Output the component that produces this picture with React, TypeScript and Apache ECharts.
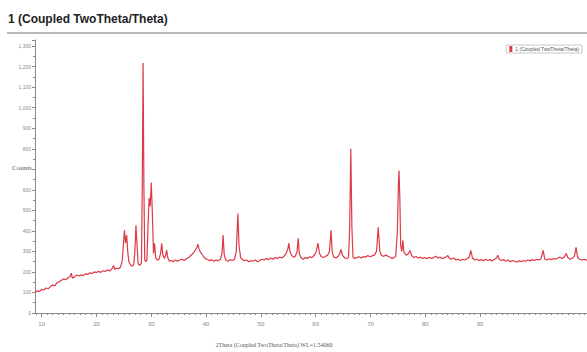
import React, { useEffect, useRef } from "react";
import * as echarts from "echarts";

const titleText = "1 (Coupled TwoTheta/Theta)";
const xTitle = "2Theta (Coupled TwoTheta/Theta) WL=1.54060";
const yTitle = "Counts";
const xLabelValues = [10, 20, 30, 40, 50, 60, 70, 80, 90];
const xMinorValues = [
  9, 10, 11, 12, 13, 14, 15, 16, 17, 18, 19, 20, 21, 22, 23, 24, 25, 26, 27, 28, 29, 30,
  31, 32, 33, 34, 35, 36, 37, 38, 39, 40, 41, 42, 43, 44, 45, 46, 47, 48, 49, 50, 51, 52,
  53, 54, 55, 56, 57, 58, 59, 60, 61, 62, 63, 64, 65, 66, 67, 68, 69, 70, 71, 72, 73, 74,
  75, 76, 77, 78, 79, 80, 81, 82, 83, 84, 85, 86, 87, 88, 89, 90, 91, 92, 93, 94, 95, 96,
  97, 98, 99, 100, 101, 102, 103, 104, 105, 106, 107, 108, 109,
];

// 2Theta (deg), counts
const scanA = [
  [8.8, 100], [9.2, 108], [9.6, 104], [10.0, 115], [10.4, 112], [10.8, 122], [11.2, 118],
  [11.6, 130], [12.0, 136], [12.4, 132], [12.8, 148], [13.2, 152], [13.6, 160], [14.0, 166],
  [14.4, 162], [14.8, 172], [15.2, 178], [15.4, 194], [15.6, 170], [16.0, 176], [16.4, 185],
  [16.8, 180], [17.2, 186], [17.6, 182], [18.0, 192], [18.4, 188], [18.8, 196], [19.2, 192],
  [19.6, 200], [20.0, 197],
];
const scanB = [
  [20.4, 203], [20.8, 198], [21.2, 206], [21.6, 202], [22.0, 210], [22.4, 205], [22.8, 214],
  [23.1, 232], [23.3, 212], [23.6, 218], [24.0, 216], [24.4, 224], [24.7, 255], [24.9, 330],
  [25.1, 403], [25.3, 340], [25.5, 380], [25.7, 300], [25.9, 250], [26.2, 235], [26.5, 228],
  [26.8, 236], [27.0, 300], [27.2, 427], [27.4, 330], [27.6, 240], [27.9, 232], [28.2, 245],
  [28.35, 600], [28.5, 1218], [28.65, 620], [28.8, 260], [29.0, 250], [29.2, 258], [29.4, 420],
  [29.6, 560], [29.8, 520], [30.0, 636], [30.2, 480], [30.4, 290], [30.6, 340], [30.8, 270],
  [31.1, 258], [31.4, 262], [31.7, 290], [31.9, 340], [32.1, 285], [32.4, 265], [32.6, 280],
  [32.8, 306], [33.0, 270], [33.3, 252], [33.7, 256], [34.0, 250], [34.4, 258], [34.8, 252],
];
const scanC = [
  [35.2, 258], [35.6, 262], [36.0, 256], [36.4, 264], [36.8, 270], [37.2, 280], [37.6, 290],
  [38.0, 305], [38.3, 318], [38.5, 335], [38.7, 312], [39.0, 295], [39.4, 280], [39.8, 266],
  [40.2, 262], [40.6, 255], [41.0, 260], [41.4, 252], [41.8, 258], [42.2, 254], [42.6, 262],
  [42.9, 290], [43.1, 380], [43.3, 285], [43.6, 258], [44.0, 252], [44.4, 260], [44.8, 256],
  [45.2, 262], [45.5, 300], [45.8, 485], [46.0, 330], [46.3, 270], [46.6, 262], [47.0, 255],
  [47.4, 258], [47.8, 250], [48.2, 256], [48.6, 252], [49.0, 258], [49.4, 250], [49.8, 256],
];
const scanD = [
  [50.2, 262], [50.6, 258], [51.0, 266], [51.4, 260], [51.8, 268], [52.2, 262], [52.6, 270],
  [53.0, 265], [53.4, 272], [53.8, 268], [54.2, 276], [54.6, 290], [54.9, 310], [55.1, 340],
  [55.3, 300], [55.6, 280], [56.0, 272], [56.3, 278], [56.6, 300], [56.8, 364], [57.0, 290],
  [57.3, 270], [57.7, 262], [58.1, 270], [58.5, 266], [58.9, 274], [59.3, 270], [59.7, 280],
  [60.1, 300], [60.4, 340], [60.7, 290], [61.0, 275], [61.4, 270], [61.8, 276], [62.2, 282],
  [62.5, 300], [62.8, 403], [63.0, 300], [63.3, 272], [63.7, 268], [64.1, 276], [64.4, 290],
  [64.6, 310], [64.9, 280], [65.3, 268], [65.7, 265], [66.0, 272], [66.2, 420], [66.4, 800],
  [66.6, 420], [66.8, 272], [67.1, 266], [67.5, 270], [67.9, 274], [68.3, 268], [68.7, 275],
  [69.1, 272], [69.5, 280], [69.9, 274],
];
const scanE = [
  [70.3, 278], [70.7, 282], [71.1, 300], [71.4, 417], [71.7, 300], [72.0, 280], [72.4, 276],
  [72.8, 282], [73.2, 276], [73.6, 270], [74.0, 266], [74.3, 270], [74.6, 275], [74.9, 400],
  [75.1, 640], [75.2, 694], [75.35, 560], [75.5, 330], [75.7, 300], [75.9, 354], [76.1, 295],
  [76.5, 282], [76.9, 288], [77.2, 305], [77.5, 280], [77.9, 270], [78.3, 275], [78.7, 268],
  [79.1, 272], [79.5, 266], [79.9, 270], [80.3, 264], [80.7, 272], [81.1, 266], [81.5, 270],
  [81.9, 276], [82.3, 268], [82.7, 272], [83.1, 264], [83.5, 270], [83.8, 272], [84.1, 280],
  [84.4, 266], [84.8, 262], [85.2, 268], [85.6, 258], [86.0, 262], [86.4, 256], [86.8, 262],
  [87.2, 258], [87.6, 264], [88.0, 272], [88.3, 305], [88.6, 268], [89.0, 258], [89.4, 262],
  [89.8, 256],
];
const scanF = [
  [90.2, 260], [90.6, 254], [91.0, 262], [91.4, 256], [91.8, 260], [92.2, 254], [92.6, 262],
  [93.0, 268], [93.2, 282], [93.5, 262], [93.9, 256], [94.3, 260], [94.7, 252], [95.1, 258],
  [95.5, 250], [95.9, 256], [96.3, 252], [96.7, 248], [97.1, 254], [97.5, 250], [97.9, 256],
  [98.3, 252], [98.7, 258], [99.1, 254], [99.5, 260], [99.9, 256], [100.3, 262], [100.7, 258],
  [101.1, 264], [101.5, 305], [101.8, 262], [102.2, 258], [102.6, 264], [103.0, 260],
  [103.4, 266], [103.8, 262], [104.2, 268], [104.6, 272], [105.0, 266], [105.4, 274],
  [105.7, 290], [106.0, 270], [106.4, 262], [106.8, 266], [107.2, 276], [107.5, 320],
  [107.8, 270], [108.2, 262], [108.6, 258], [109.0, 262], [109.5, 256],
];

const pattern = [...scanA, ...scanB, ...scanC, ...scanD, ...scanE, ...scanF];

export default function App() {
  const ref = useRef<HTMLDivElement>(null);
  useEffect(() => {
    if (!ref.current) return;
    const chart = echarts.init(ref.current, undefined, { renderer: "svg" });
    const axisGray = "#8a8a8a";
    chart.setOption({
      animation: false,
      backgroundColor: "#ffffff",
      textStyle: { fontFamily: "Liberation Sans, Arial, sans-serif" },
      grid: {
        left: 35,
        right: 0,
        top: 40,
        bottom: 39,
        outerBoundsMode: "none",
        containLabel: false,
      },
      legend: {
        right: 5,
        top: 45,
        itemWidth: 3,
        itemHeight: 6,
        padding: [1, 3, 1, 3],
        borderColor: "#c8c8c8",
        borderWidth: 1,
        itemGap: 4,
        icon: "rect",
        textStyle: { fontSize: 5, color: "#555", padding: [0, 0, 0, -2] },
        data: [titleText],
      },
      xAxis: [
        {
          type: "value",
          min: 8.78,
          max: 109.5,
          axisLine: { show: true, lineStyle: { color: axisGray, width: 1 } },
          axisTick: {
            show: true,
            customValues: xLabelValues,
            length: 4,
            lineStyle: { color: axisGray },
          },
          axisLabel: {
            customValues: xLabelValues,
            fontSize: 6,
            color: "#888",
            margin: 8,
          },
          splitLine: { show: false },
        },
        {
          type: "value",
          min: 8.78,
          max: 109.5,
          position: "bottom",
          axisLine: { show: false },
          axisTick: {
            show: true,
            customValues: xMinorValues,
            length: 2,
            lineStyle: { color: axisGray },
          },
          axisLabel: { show: false },
          splitLine: { show: false },
        },
      ],
      yAxis: {
        type: "value",
        min: 0,
        max: 1330,
        interval: 100,
        axisLine: { show: true, lineStyle: { color: axisGray, width: 1 } },
        axisTick: { show: true, length: 3, lineStyle: { color: axisGray } },
        minorTick: { show: true, splitNumber: 2, length: 2, lineStyle: { color: axisGray } },
        axisLabel: {
          fontSize: 5,
          color: "#888",
          margin: 4,
          showMaxLabel: false,
          formatter: (v: number) =>
            v === 700 ? "" : v.toLocaleString("en-US"),
        },
        splitLine: { show: false },
      },
      graphic: [
        {
          type: "text",
          left: 8,
          top: 13,
          style: {
            text: titleText,
            font: "bold 12px Liberation Sans, Arial, sans-serif",
            fill: "#222",
          },
        },
        {
          type: "rect",
          shape: { x: 7, y: 32, width: 580, height: 2 },
          style: { fill: "#b8b8b8" },
        },
        {
          type: "text",
          x: 12,
          y: 164,
          style: {
            text: yTitle,
            font: "7px Liberation Serif, serif",
            fill: "#555",
          },
        },
        {
          type: "text",
          x: 274,
          y: 342,
          style: {
            text: xTitle,
            font: "6px Liberation Serif, serif",
            fill: "#555",
            align: "center",
          },
        },
      ],
      series: [
        {
          name: titleText,
          type: "line",
          data: pattern,
          showSymbol: false,
          symbol: "none",
          xAxisIndex: 0,
          color: "#dc3a46",
          lineStyle: { color: "#dc3a46", width: 1.2 },
        },
      ],
    });
    return () => chart.dispose();
  }, []);
  return (
    <div
      ref={ref}
      style={{ position: "fixed", left: 0, top: 0, width: 587, height: 352, background: "#fff" }}
    />
  );
}
